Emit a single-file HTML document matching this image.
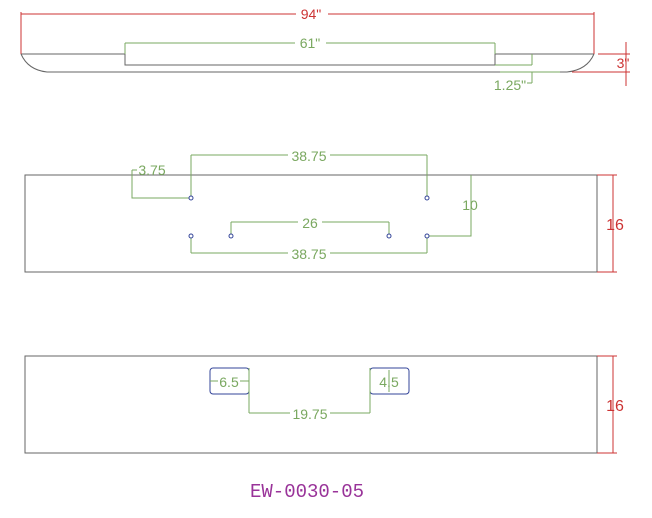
<!DOCTYPE html>
<html><head><style>body{margin:0;background:#fff}svg{display:block}</style></head><body>
<svg width="652" height="518" xmlns="http://www.w3.org/2000/svg" font-family="Liberation Sans, sans-serif">
<g fill="none" stroke-width="1">
<g stroke="#666">
<path d="M21 54 H125 V65 H495 V54 H594"/>
<path d="M21 54 Q28 70 47 72 H567 Q587 70 594 54"/>
</g>
<g stroke="#cc3333">
<path d="M21 12 V54 M594 12 V54 M21 14 H296 M328 14 H594"/>
<path d="M598 54 H630 M572 72 H630 M626 42 V86"/>
</g>
<g stroke="#7aa860">
<path d="M125 43 V54 M495 43 V54 M125 43 H295 M326 43 H495"/>
<path d="M495 65 H532 M532 54 V65 M532 72 V83 M527 83 H532 M500 72 H560"/>
</g>
<rect x="25" y="175" width="572" height="97" stroke="#666"/>
<g stroke="#cc3333"><path d="M597 175 H617 M597 272 H617 M613 175 V272"/></g>
<g stroke="#7aa860">
<path d="M191 155 V196 M427 155 V196 M191 155 H288 M330 155 H427"/>
<path d="M132 170 V198 H189 M132 170 H137"/>
<path d="M471 175 V236 H429"/>
<path d="M231 222 V234 M389 222 V234 M231 222 H298 M322 222 H389"/>
<path d="M191 238 V253 M427 238 V253 M191 253 H288 M330 253 H427"/>
</g>
<g stroke="#334499">
<circle cx="191" cy="198" r="2"/><circle cx="427" cy="198" r="2"/>
<circle cx="191" cy="236" r="2"/><circle cx="231" cy="236" r="2"/>
<circle cx="389" cy="236" r="2"/><circle cx="427" cy="236" r="2"/>
</g>
<rect x="25" y="356" width="572" height="97" stroke="#666"/>
<g stroke="#cc3333"><path d="M597 356 H617 M597 453 H617 M613 356 V453"/></g>
<g stroke="#334499">
<rect x="210" y="368" width="39" height="26" rx="3"/>
<rect x="370" y="368" width="39" height="26" rx="3"/>
</g>
<g stroke="#7aa860">
<path d="M210 381 H218 M240 381 H249"/>
<path d="M249 368 V413 M370 368 V413 M249 413 H290 M330 413 H370"/>
<path d="M389 370 V392"/>
</g>
</g>
<g font-size="14" text-anchor="middle">
<text x="311" y="19" fill="#cc3333">94"</text>
<text x="310" y="48" fill="#7aa860">61"</text>
<text x="623" y="68" fill="#cc3333">3"</text>
<text x="510" y="90" fill="#7aa860">1.25"</text>
<text x="309" y="161" fill="#7aa860">38.75</text>
<text x="152" y="175" fill="#7aa860">3.75</text>
<text x="470" y="210" fill="#7aa860">10</text>
<text x="310" y="228" fill="#7aa860">26</text>
<text x="309" y="259" fill="#7aa860">38.75</text>
<text x="615" y="230" fill="#cc3333" font-size="16">16</text>
<text x="229" y="387" fill="#7aa860">6.5</text>
<text x="389" y="387" fill="#7aa860">4.5</text>
<text x="310" y="419" fill="#7aa860">19.75</text>
<text x="615" y="411" fill="#cc3333" font-size="16">16</text>
<text x="307" y="497" fill="#993399" font-size="19" font-family="Liberation Mono, monospace">EW-0030-05</text>
</g>
</svg>
</body></html>
